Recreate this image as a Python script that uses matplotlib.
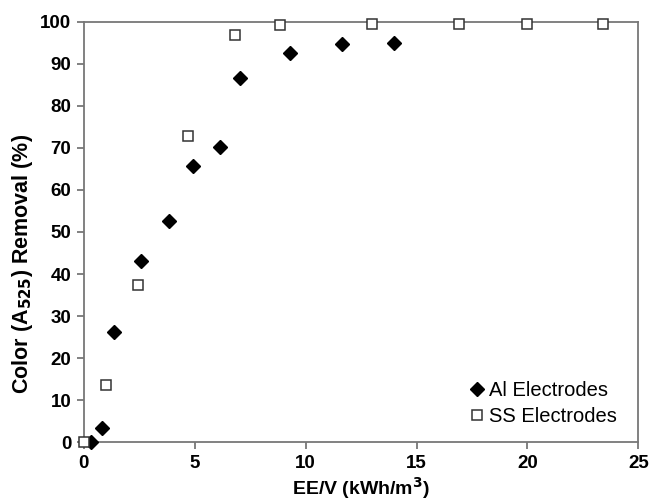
import numpy as np
import matplotlib.pyplot as plt

plt.rcParams['font.family'] = ['Liberation Sans', 'DejaVu Sans']

# Al electrodes
al_x = [0.3, 0.8, 1.37, 2.56, 3.84, 4.9, 6.14, 7.04, 9.3, 11.66, 14.0]
al_y = [0.0, 3.3, 26.3, 43.1, 52.6, 65.7, 70.2, 86.7, 92.5, 94.6, 94.9]

# SS electrodes
ss_x = [0.0, 1.02, 2.42, 4.68, 6.81, 8.84, 12.98, 16.9, 20.0, 23.4]
ss_y = [0.0, 13.6, 37.5, 72.8, 96.7, 99.1, 99.4, 99.5, 99.5, 99.5]

fig = plt.figure(figsize=(6.5, 5.01), dpi=100)
ax = fig.add_axes([0.129, 0.117, 0.853, 0.840])

ax.plot(al_x, al_y, linestyle='none', marker='D', ms=7.2, color='black',
        label='Al Electrodes', clip_on=False, zorder=3)
ax.plot(ss_x, ss_y, linestyle='none', marker='s', ms=7.2, mfc='white',
        mec='#333333', mew=1.1, label='SS Electrodes', clip_on=False, zorder=3)

ax.set_xlim(0, 25)
ax.set_ylim(0, 100)
ax.set_xticks(np.arange(0, 26, 5))
ax.set_yticks(np.arange(0, 101, 10))

for s in ax.spines.values():
    s.set_color('#777777')
    s.set_linewidth(1.3)
ax.tick_params(direction='out', length=5, width=1.3, color='#777777',
               labelsize=13.5, pad=4)
for lab in ax.get_xticklabels() + ax.get_yticklabels():
    lab.set_fontweight('bold')

ax.set_xlabel('EE/V (kWh/m$^\\mathbf{3}$)', fontsize=14, fontweight='bold')
ax.xaxis.set_label_coords(0.5, -0.077)
ax.set_ylabel('Color (A$_\\mathbf{525}$) Removal (%)', fontsize=15.5,
              fontweight='bold')
ax.yaxis.set_label_coords(-0.088, 0.425)

ax.legend(loc='lower right', frameon=False, fontsize=14.5, handletextpad=0.15,
          handlelength=0.8, borderaxespad=0.0, labelspacing=0.35,
          bbox_to_anchor=(0.975, 0.02))

fig.savefig('out.png', dpi=100)
